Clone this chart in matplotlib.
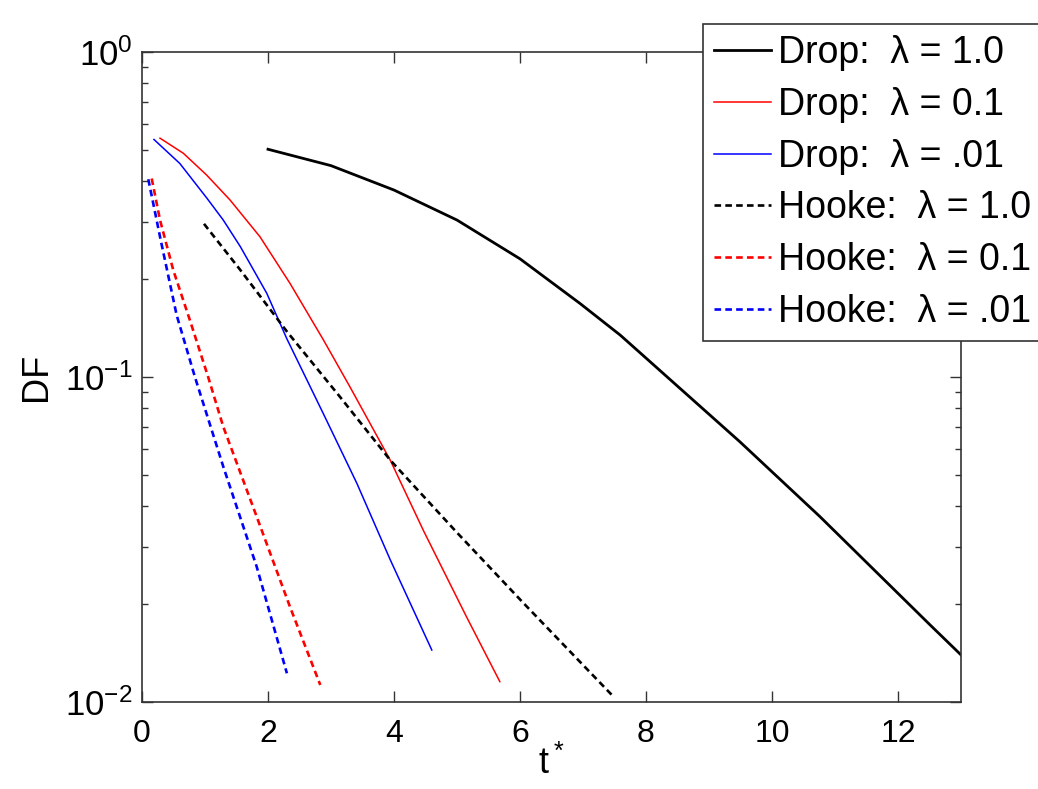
import matplotlib

matplotlib.use("Agg")
import matplotlib.pyplot as plt
from matplotlib.ticker import FuncFormatter
import numpy as np

plt.rcParams["font.family"] = ["Liberation Sans", "DejaVu Sans"]
plt.rcParams["mathtext.fontset"] = "custom"
plt.rcParams["mathtext.rm"] = "Liberation Sans"

# Drop model curves
t_drop_10 = [2.0, 3.0, 4.0, 5.0, 6.0, 6.95, 7.59, 7.9, 9.49, 10.76, 12.51, 13.0]
df_drop_10 = [0.502, 0.447, 0.376, 0.304, 0.231, 0.1685, 0.1346, 0.119,
              0.0632, 0.0372, 0.01726, 0.01396]

t_drop_01 = [0.286, 0.656, 1.027, 1.397, 1.873, 2.35, 2.88, 3.30, 3.94, 4.47, 5.15, 5.68]
df_drop_01 = [0.543, 0.488, 0.418, 0.3505, 0.270, 0.194, 0.130, 0.0933, 0.0555,
              0.0336, 0.0183, 0.01155]

t_drop_001 = [0.19, 0.60, 1.03, 1.29, 1.56, 1.98, 2.30, 2.88, 3.41, 3.94, 4.60]
df_drop_001 = [0.538, 0.454, 0.355, 0.304, 0.252, 0.181, 0.131, 0.077, 0.0471,
               0.0274, 0.01445]

# Hooke model curves
t_hooke_10 = [0.984, 1.556, 2.30, 3.14, 3.94, 5.0, 6.05, 7.46]
df_hooke_10 = [0.296, 0.214, 0.138, 0.087, 0.0555, 0.0332, 0.0202, 0.0105]

t_hooke_01 = [0.154, 0.286, 0.497, 0.76, 1.05, 1.29, 1.82, 2.35, 2.83]
df_hooke_01 = [0.408, 0.304, 0.213, 0.1496, 0.100, 0.0703, 0.0372, 0.0196, 0.01128]

t_hooke_001 = [0.10, 0.30, 0.55, 0.84, 1.29, 1.82, 2.30]
df_hooke_001 = [0.406, 0.262, 0.155, 0.100, 0.053, 0.0261, 0.01225]

labels = ["Drop:  \u03bb = 1.0", "Drop:  \u03bb = 0.1", "Drop:  \u03bb = .01",
          "Hooke:  \u03bb = 1.0", "Hooke:  \u03bb = 0.1", "Hooke:  \u03bb = .01"]

fig = plt.figure(figsize=(10.38, 7.89), dpi=100)
ax = fig.add_axes([0.1368, 0.1103, 0.7890, 0.8238])

dash = (2.5, 1.6)
ax.semilogy(t_drop_10, df_drop_10, color="k", lw=2.0, label=labels[0])
ax.semilogy(t_drop_01, df_drop_01, color="r", lw=1.1, label=labels[1])
ax.semilogy(t_drop_001, df_drop_001, color="b", lw=1.1, label=labels[2])
ax.semilogy(t_hooke_10, df_hooke_10, color="k", lw=1.9, dashes=dash, label=labels[3])
ax.semilogy(t_hooke_01, df_hooke_01, color="r", lw=1.9, dashes=dash, label=labels[4])
ax.semilogy(t_hooke_001, df_hooke_001, color="b", lw=1.9, dashes=dash, label=labels[5])

ax.set_xlim(0, 13)
ax.set_ylim(1e-2, 1e0)
ax.set_xticks([0, 2, 4, 6, 8, 10, 12])
ax.yaxis.set_major_formatter(FuncFormatter(
    lambda v, p: r"$\mathregular{10^{%d}}$" % int(round(np.log10(v)))))
ax.tick_params(which="both", direction="in", top=True, right=True,
               color="#333333")
ax.tick_params(axis="x", labelsize=23, pad=12)
ax.tick_params(axis="y", labelsize=25, pad=7)
ax.tick_params(which="major", length=8, width=1)
ax.tick_params(which="minor", length=4, width=1)
ax.tick_params(axis="x", which="minor", top=False, bottom=False)
for sp in ax.spines.values():
    sp.set_color("#333333")
    sp.set_linewidth(1.2)

ax.set_xlabel(r"$\mathregular{t^*}$", fontsize=26, labelpad=-2)
ax.set_ylabel("DF", fontsize=26, labelpad=8)

leg = fig.legend(loc="upper left", bbox_to_anchor=(703 / 1038, 1 - 24 / 789),
                 fontsize=27, frameon=True, fancybox=False, framealpha=1,
                 edgecolor="#333333", handlelength=1.5, handletextpad=0.2,
                 labelspacing=0.42, borderpad=0.3, borderaxespad=0)
leg.get_frame().set_linewidth(1.2)

fig.savefig("out.png", dpi=100)
